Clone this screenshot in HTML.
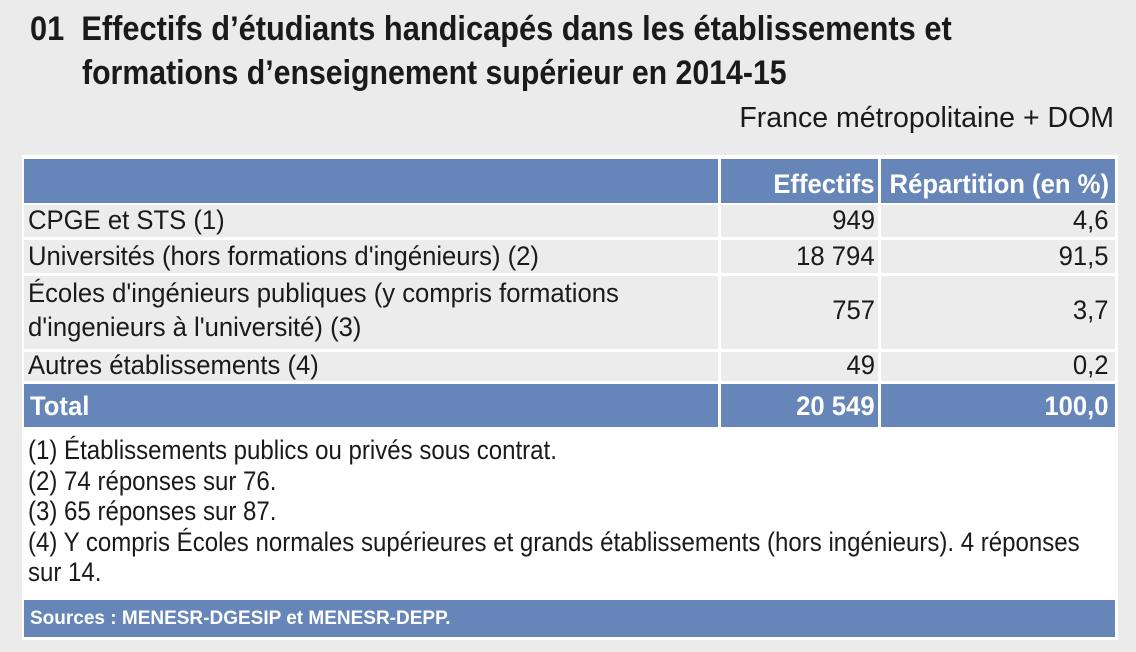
<!DOCTYPE html>
<html><head><meta charset="utf-8"><style>
body{margin:0;width:1136px;height:652px;background:#ebebeb;font-family:"Liberation Sans Narrow","Liberation Sans",sans-serif;color:#1a1a1a;position:relative;overflow:hidden}
.a{position:absolute;white-space:nowrap}
.t{font-weight:bold;font-size:34px;transform-origin:left top}
.panel{position:absolute;left:22px;top:155px;width:1096px;height:485px;background:#fff}
.r{position:absolute;left:24px;width:1091px;background:#ececec}
.b{background:#6685b8;color:#fff;font-weight:bold}
.c{position:absolute;font-size:27px;white-space:nowrap;transform:scaleX(0.95)}
.l{transform-origin:left top}
.rt{transform-origin:right top}
.v{position:absolute;top:0;width:3px;background:#fff}
</style></head><body>
<div class="a t" style="top:10px;left:30px;transform:scaleX(0.905)">01&nbsp;&nbsp;Effectifs d’étudiants handicapés dans les établissements et</div>
<div class="a t" style="top:54px;left:82px;transform:scaleX(0.89)">formations d’enseignement supérieur en 2014-15</div>
<div class="a" style="top:102px;right:22px;font-size:28.5px">France métropolitaine + DOM</div>
<div class="panel"></div>

<div class="r b" style="top:159px;height:44px"><div class="c rt" style="right:240px;top:10px">Effectifs</div><div class="c rt" style="right:6px;top:10px">Répartition (en %)</div></div>
<div class="r" style="top:205px;height:32px"><div class="c l" style="left:4px;top:0px">CPGE et STS (1)</div><div class="c rt" style="right:240px;top:0px">949</div><div class="c rt" style="right:6px;top:0px">4,6</div></div>
<div class="r" style="top:240px;height:33px"><div class="c l" style="left:4px;top:1px">Universités (hors formations d'ingénieurs) (2)</div><div class="c rt" style="right:240px;top:1px">18 794</div><div class="c rt" style="right:6px;top:1px">91,5</div></div>
<div class="r" style="top:276px;height:73px"><div class="c l" style="left:4px;top:2px">Écoles d'ingénieurs publiques (y compris formations</div><div class="c l" style="left:4px;top:36px">d'ingenieurs à l'université) (3)</div><div class="c rt" style="right:240px;top:19px">757</div><div class="c rt" style="right:6px;top:19px">3,7</div></div>
<div class="r" style="top:352px;height:29px"><div class="c l" style="left:4px;top:-2px">Autres établissements (4)</div><div class="c rt" style="right:240px;top:-2px">49</div><div class="c rt" style="right:6px;top:-2px">0,2</div></div>
<div class="r b" style="top:384px;height:43px"><div class="c l" style="left:6px;top:7px">Total</div><div class="c rt" style="right:240px;top:7px">20 549</div><div class="c rt" style="right:6px;top:7px">100,0</div></div>
<div class="v" style="left:718px;top:159px;height:268px"></div>
<div class="v" style="left:878px;top:159px;height:268px"></div>

<div class="c l" style="left:28px;top:435px;line-height:30.5px;transform:scaleX(0.89)">(1) Établissements publics ou privés sous contrat.<br>(2) 74 réponses sur 76.<br>(3) 65 réponses sur 87.<br>(4) Y compris Écoles normales supérieures et grands établissements (hors ingénieurs). 4 réponses<br>sur 14.</div>
<div class="r b" style="top:600px;height:37px"><div class="a" style="left:6px;top:8px;font-size:19px">Sources : MENESR-DGESIP et MENESR-DEPP.</div></div>
</body></html>
